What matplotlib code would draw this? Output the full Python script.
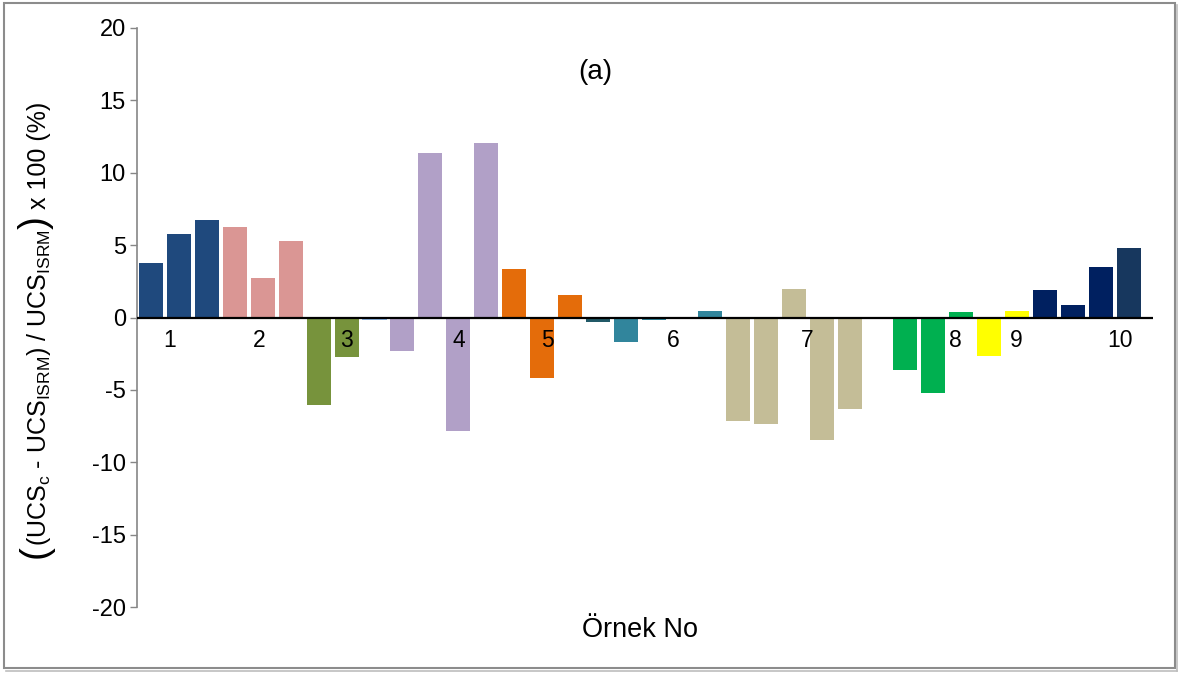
import matplotlib
matplotlib.use("Agg")
import matplotlib.pyplot as plt
from matplotlib.patches import Rectangle
from matplotlib.lines import Line2D

plt.rcParams['font.family'] = ['Liberation Sans', 'DejaVu Sans']
plt.rcParams['mathtext.fontset'] = 'custom'
plt.rcParams['mathtext.rm'] = 'Liberation Sans'
plt.rcParams['mathtext.it'] = 'Liberation Sans'
plt.rcParams['mathtext.bf'] = 'Liberation Sans:bold'

# Relative deviation per test, in percent
values = [3.77, 5.77, 6.74, 6.25, 2.73, 5.28, -6.02, -2.71, -0.20, -2.29,
          11.36, -7.82, 12.06, 3.35, -4.16, 1.55, -0.31, -1.69, -0.20, 0.0,
          0.45, -7.15, -7.36, 1.97, -8.46, -6.32, -0.10, -3.63, -5.22, 0.38,
          -2.66, 0.45, 1.90, 0.86, 3.49, 4.80]

colors = (["#1F497D"] * 3 + ["#DA9694"] * 3 + ["#77933C"] * 2 + ["#8DB4E2"]
          + ["#B1A0C7"] * 4 + ["#E46C0A"] * 3 + ["#215967"] + ["#31859C"] * 4
          + ["#C4BD97"] * 5 + ["#C5D9F1"] + ["#00B050"] * 3 + ["#FFFF00"] * 2
          + ["#002060"] * 3 + ["#17375E"])

sample_labels = ["1", "2", "3", "4", "5", "6", "7", "8", "9", "10"]
sample_label_pos = [0.68, 3.87, 7.01, 11.02, 14.2, 18.68, 23.48, 28.78, 30.96, 34.68]

y_ticks = [20, 15, 10, 5, 0, -5, -10, -15, -20]

W, H = 1180, 675
fig = plt.figure(figsize=(W / 100, H / 100), dpi=100)
ax = fig.add_axes([137 / W, 1 - 607 / H, (1153 - 137) / W, (607 - 28) / H])

x = list(range(len(values)))
ax.bar(x, values, width=0.86, color=colors, linewidth=0, zorder=2)
ax.axhline(0, color="black", linewidth=1.6, zorder=3)

ax.set_xlim(-0.5, 35.86)
ax.set_ylim(-20, 20)
ax.set_yticks(y_ticks)
ax.set_yticklabels([str(v) for v in y_ticks], fontsize=17)
ax.tick_params(axis="y", direction="out", length=5, width=1, color="#868686", pad=3)
ax.tick_params(axis="x", bottom=False, labelbottom=False)

for s in ("top", "right", "bottom"):
    ax.spines[s].set_visible(False)
ax.spines["left"].set_color("#868686")
ax.spines["left"].set_linewidth(1.2)

for lab, pos in zip(sample_labels, sample_label_pos):
    ax.text(pos, -1.6, lab, ha="center", va="center", fontsize=16.5, zorder=4)

fig.text(595 / W, 1 - 72 / H, "(a)", ha="center", va="center", fontsize=20)

fig.text(640 / W, 1 - 630 / H, "Örnek No", ha="center", va="center", fontsize=19.5)

# Vertical axis title assembled from pieces so the outer brackets can be larger
label_parts = [
    ("(", 28),
    (r"(UCS$_\mathregular{c}$ - UCS$_\mathregular{ISRM}$) / UCS$_\mathregular{ISRM}$", 18),
    (")", 28),
    (" x 100 (%)", 18),
]
renderer = fig.canvas.get_renderer()
base_x = 46        # pixel column of the text baseline
y_cur = 100        # pixel row (from bottom) where the title starts
placed = []
for txt, size in label_parts:
    t = fig.text(base_x / W, y_cur / H, txt, rotation=90, rotation_mode="anchor",
                 ha="left", va="baseline", fontsize=size)
    bb = t.get_window_extent(renderer=renderer)
    y_cur += bb.height
    placed.append(t)
# centre the assembled title vertically
total = y_cur - 100
shift = (675 - 330) - (100 + total / 2)
for t in placed:
    px, py = t.get_position()
    t.set_position((px, py + shift / H))

# Chart-area frame with a soft shadow line
fig.add_artist(Rectangle((4 / W, 1 - 668 / H), (1175 - 4) / W, (668 - 3) / H,
                         transform=fig.transFigure, fill=False,
                         edgecolor="#8C8C8C", linewidth=1.5))
fig.add_artist(Line2D([6 / W, 1177 / W], [1 - 671 / H, 1 - 671 / H],
                      transform=fig.transFigure, color="#BDBDBD", linewidth=1.2))
fig.add_artist(Line2D([1177 / W, 1177 / W], [1 - 671 / H, 1 - 5 / H],
                      transform=fig.transFigure, color="#BDBDBD", linewidth=1.2))

fig.savefig("out.png", dpi=100, facecolor="white")
